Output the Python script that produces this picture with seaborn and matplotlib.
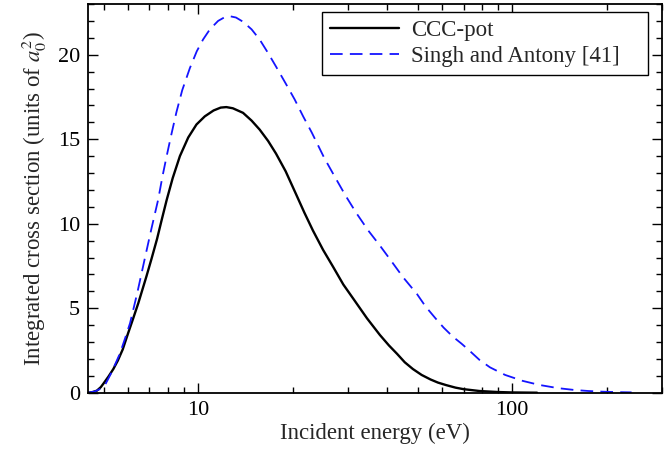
import numpy as np
import pandas as pd
import matplotlib
matplotlib.use("Agg")
import matplotlib.pyplot as plt
import seaborn as sns
from matplotlib.ticker import MultipleLocator, LogLocator, NullFormatter, FixedLocator

# ---- data ----
ccc_energy = [4.47, 4.6, 4.76, 4.9, 5.0, 5.18, 5.37, 5.55, 5.75, 5.98, 6.2, 6.45,
              6.85, 7.1, 7.4, 7.65, 7.94, 8.3, 8.75, 9.3, 9.88, 10.5, 11.2, 11.8,
              12.3, 12.9, 13.9, 14.8, 15.7, 16.7, 17.7, 19.0, 20.5, 21.8, 23.2,
              25.0, 26.9, 29.0, 31.5, 34.5, 37.9, 40.5, 43.0, 45.5, 48.3, 51.5,
              55.0, 58.0, 61.6, 66.0, 70.0, 78.7, 90.0, 100.0, 120.0]
ccc_sigma = [0.0, 0.03, 0.12, 0.33, 0.55, 0.95, 1.4, 1.9, 2.55, 3.5, 4.35, 5.3,
             6.9, 7.9, 9.1, 10.2, 11.4, 12.7, 14.0, 15.1, 15.87, 16.35, 16.7, 16.87,
             16.9, 16.83, 16.56, 16.1, 15.57, 14.9, 14.15, 13.1, 11.75, 10.65, 9.6,
             8.45, 7.45, 6.4, 5.45, 4.4, 3.42, 2.8, 2.3, 1.8, 1.4, 1.05,
             0.78, 0.6, 0.45, 0.3, 0.21, 0.1, 0.04, 0.015, 0.0]

sa_energy = [4.47, 4.7, 4.85, 5.05, 5.15, 5.3, 5.45, 5.64, 5.85, 6.07, 6.4, 6.77,
             7.1, 7.46, 7.7, 7.94, 8.2, 8.53, 8.9, 9.41, 9.9, 10.37, 10.9, 11.58,
             12.1, 12.6, 13.2, 13.9, 14.8, 15.7, 16.7, 17.7, 19.0, 20.3, 21.6,
             23.0, 25.2, 27.2, 29.5, 31.9, 34.8, 37.9, 41.0, 44.9, 49.8, 53.0,
             57.0, 60.5, 64.7, 69.0, 73.0, 78.7, 85.0, 95.0, 108.0, 122.0, 140.0,
             158.0, 175.0, 194.0, 215.0, 240.0]
sa_sigma = [0.0, 0.08, 0.2, 0.45, 0.75, 1.2, 1.7, 2.33, 3.2, 4.11, 5.9, 7.97,
            9.7, 11.42, 12.8, 14.0, 15.2, 16.6, 17.9, 19.2, 20.2, 20.9, 21.5, 22.0,
            22.2, 22.28, 22.2, 21.95, 21.5, 20.9, 20.1, 19.3, 18.3, 17.35, 16.35,
            15.4, 13.9, 12.8, 11.65, 10.63, 9.6, 8.71, 7.85, 6.84, 5.83, 5.1,
            4.4, 3.85, 3.32, 2.9, 2.5, 1.94, 1.5, 1.05, 0.7, 0.46, 0.27,
            0.16, 0.1, 0.06, 0.035, 0.02]

series_names = ["CCC-pot", "Singh and Antony [41]"]
x_major_ticks = [10, 100]
x_tick_labels = ["10", "100"]
y_ticks = [0, 5, 10, 15, 20]

df = pd.concat([
    pd.DataFrame({"E": ccc_energy, "sigma": ccc_sigma, "series": series_names[0]}),
    pd.DataFrame({"E": sa_energy, "sigma": sa_sigma, "series": series_names[1]}),
], ignore_index=True)

sns.set_style("ticks")
plt.rcParams["font.family"] = ["Liberation Serif", "DejaVu Serif"]
plt.rcParams["mathtext.fontset"] = "stix"

W, H = 670, 457
fig = plt.figure(figsize=(W / 100, H / 100), dpi=100)
left, right, top, bottom = 88.3, 662, 4, 392.7
ax = fig.add_axes([left / W, 1 - bottom / H, (right - left) / W, (bottom - top) / H])

sns.lineplot(data=df[df.series == series_names[0]], x="E", y="sigma", ax=ax,
             color="black", lw=1.7, label=series_names[0], estimator=None, sort=True)
sns.lineplot(data=df[df.series == series_names[1]], x="E", y="sigma", ax=ax,
             color="#1414ff", lw=1.3, label=series_names[1], estimator=None, sort=True,
             linestyle=(0, (7, 4)))

ax.set_xscale("log")
ax.set_xlim(4.47, 300)
ax.set_ylim(0, 23)

ax.xaxis.set_major_locator(FixedLocator(x_major_ticks))
ax.set_xticklabels(x_tick_labels)
ax.xaxis.set_minor_locator(LogLocator(base=10, subs=np.arange(2, 10)))
ax.xaxis.set_minor_formatter(NullFormatter())
ax.yaxis.set_major_locator(FixedLocator(y_ticks))
ax.yaxis.set_minor_locator(MultipleLocator(1))

ax.tick_params(which="both", direction="in", top=True, right=True,
               labelsize=16, colors="black", width=1.0)
ax.tick_params(which="major", length=7, pad=6)
ax.tick_params(which="minor", length=4)
for s in ax.spines.values():
    s.set_linewidth(1.3)
    s.set_color("black")

ax.set_xlabel("Incident energy (eV)", fontsize=16.5, labelpad=2)
ax.set_ylabel("Integrated cross section (units of $a_0^2$)", fontsize=16.5, labelpad=6)

x0 = (322 - left) / (right - left)
wbox = (648 - 322) / (right - left)
ytop = 1 - (12 - top) / (bottom - top)
leg = ax.legend(loc="upper left", bbox_to_anchor=(x0, 0.0, wbox, ytop), mode="expand",
                borderaxespad=0, fontsize=16.5, frameon=True, fancybox=False,
                edgecolor="black", framealpha=1, handlelength=3.0,
                handletextpad=0.55, borderpad=0.35, labelspacing=0.2)
leg.get_frame().set_linewidth(1.0)

fig.savefig("out.png", dpi=100)
